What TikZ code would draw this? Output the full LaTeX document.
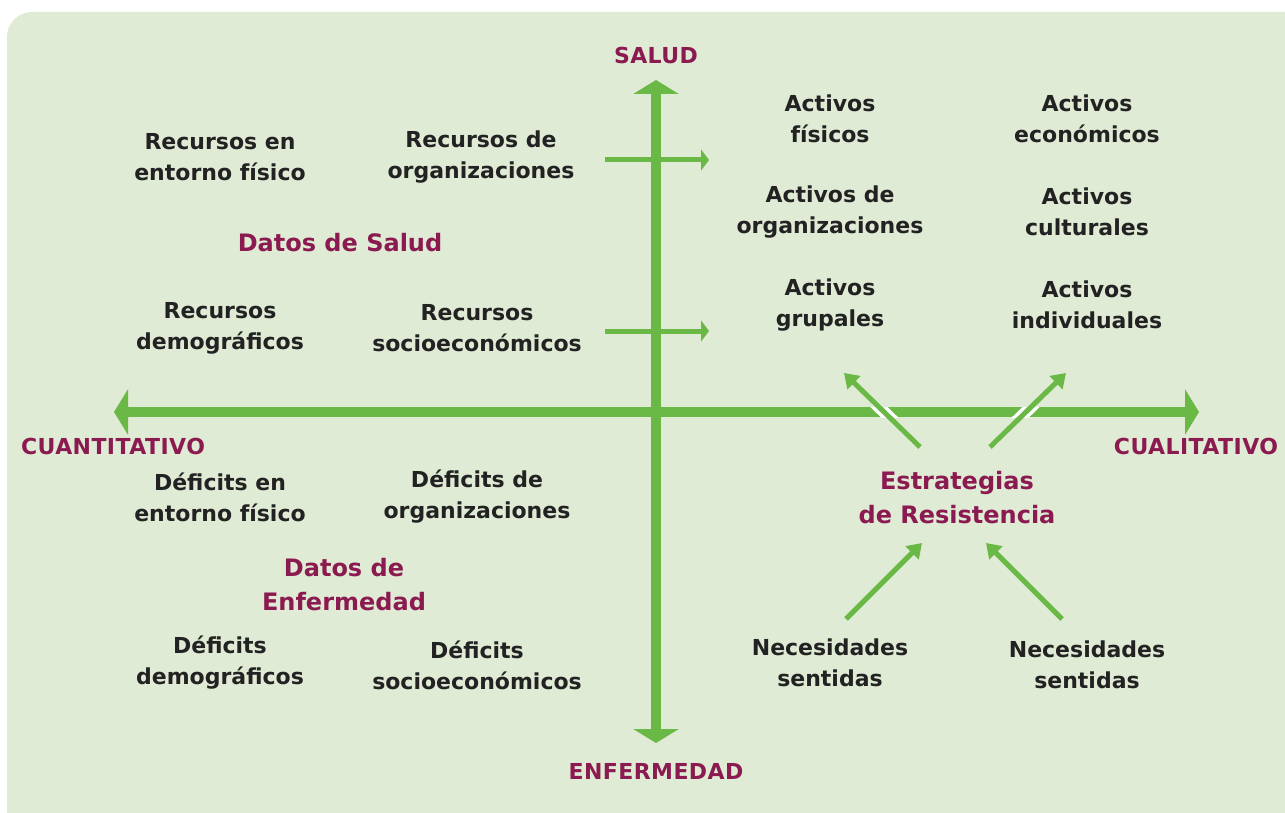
\documentclass[tikz,border=0pt]{standalone}
\usepackage{fontspec}
\setmainfont{DejaVu Sans}[BoldFont=DejaVu Sans Bold]
\newfontfamily\axfont{DejaVu Sans Bold}[LetterSpace=2]
\usetikzlibrary{arrows.meta,calc}
\definecolor{bgc}{RGB}{223,235,212}
\definecolor{grn}{RGB}{106,184,70}
\definecolor{pur}{RGB}{139,26,80}
\definecolor{ink}{RGB}{34,34,34}
\tikzset{
  lbl/.style={text=ink,align=center,inner sep=0pt,font=\bfseries\fontsize{22}{31}\selectfont},
  plbl/.style={text=pur,align=center,inner sep=0pt,font=\bfseries\fontsize{24}{34}\selectfont},
  axlbl/.style={text=pur,inner sep=0pt,font=\axfont\fontsize{22}{26}\selectfont},
  axis/.style={draw=grn,line width=9.5pt,{Triangle[length=14pt,width=45pt]}-{Triangle[length=14pt,width=45pt]}},
  harrow/.style={draw=grn,line width=5pt,-{Triangle[length=8pt,width=21pt]}},
  darrow/.style={draw=grn,line width=5pt,-{Triangle[length=14pt,width=18pt]}},
  gapline/.style={draw=white,line width=12pt},
}
\begin{document}
\begin{tikzpicture}[x=1pt,y=-1pt]
\useasboundingbox (0,0) rectangle (1285,813);
\fill[bgc,rounded corners=25pt] (7,12) rectangle (1320,840);
% axes
\coordinate (top) at (656,80);
\coordinate (bot) at (656,743);
\coordinate (lft) at (114,412);
\coordinate (rgt) at (1199,412);
\draw[axis] (bot) -- (top);
\draw[axis] (lft) -- (rgt);
% small horizontal arrows
\coordinate (h1s) at (605,160);
\coordinate (h1e) at (709,160);
\coordinate (h2s) at (605,331);
\coordinate (h2e) at (709,331);
\draw[harrow] (h1s) -- (h1e);
\draw[harrow] (h2s) -- (h2e);
% axis labels
\node[axlbl] (salud) at (656,55) {SALUD};
\node[axlbl] (enf) at (656,771) {ENFERMEDAD};
\node[axlbl] (cuanti) at (113,446) {CUANTITATIVO};
\node[axlbl] (cuali) at (1196,446) {CUALITATIVO};
% left upper
\node[lbl] (r1) at (220,157) {Recursos en\\entorno físico};
\node[lbl] (r2) at (481,157) {Recursos de\\organizaciones};
\node[plbl] (ds) at (340,243) {Datos de Salud};
\node[lbl] (r3) at (220,328) {Recursos\\demográficos};
\node[lbl] (r4) at (477,328) {Recursos\\socioeconómicos};
% right upper
\node[lbl] (a1) at (830,119) {Activos\\físicos};
\node[lbl] (a2) at (1087,119) {Activos\\económicos};
\node[lbl] (a3) at (830,212) {Activos de\\organizaciones};
\node[lbl] (a4) at (1087,212) {Activos\\culturales};
\node[lbl] (a5) at (830,305) {Activos\\grupales};
\node[lbl] (a6) at (1087,305) {Activos\\individuales};
% left lower
\node[lbl] (d1) at (220,497) {Déficits en\\entorno físico};
\node[lbl] (d2) at (477,497) {Déficits de\\organizaciones};
\node[plbl] (de) at (344,585) {Datos de\\Enfermedad};
\node[lbl] (d3) at (220,663) {Déficits\\demográficos};
\node[lbl] (d4) at (477,665) {Déficits\\socioeconómicos};
% right lower
\node[plbl] (er) at (957,498) {Estrategias\\de Resistencia};
\node[lbl] (n1) at (830,663) {Necesidades\\sentidas};
\node[lbl] (n2) at (1087,665) {Necesidades\\sentidas};
% diagonal arrows
\coordinate (ul0) at (920,447);
\coordinate (ul1) at (844,373);
\coordinate (ur0) at (990,447);
\coordinate (ur1) at (1066,373);
\coordinate (ll0) at (846,619);
\coordinate (ll1) at (922,543);
\coordinate (lr0) at (1062,619);
\coordinate (lr1) at (986,543);
\begin{scope}
  \clip (0,407) rectangle (1285,417);
  \draw[gapline] (ul0) -- (ul1);
  \draw[gapline] (ur0) -- (ur1);
\end{scope}
\draw[darrow] (ul0) -- (ul1);
\draw[darrow] (ur0) -- (ur1);
\draw[darrow] (ll0) -- (ll1);
\draw[darrow] (lr0) -- (lr1);
\end{tikzpicture}
\end{document}
